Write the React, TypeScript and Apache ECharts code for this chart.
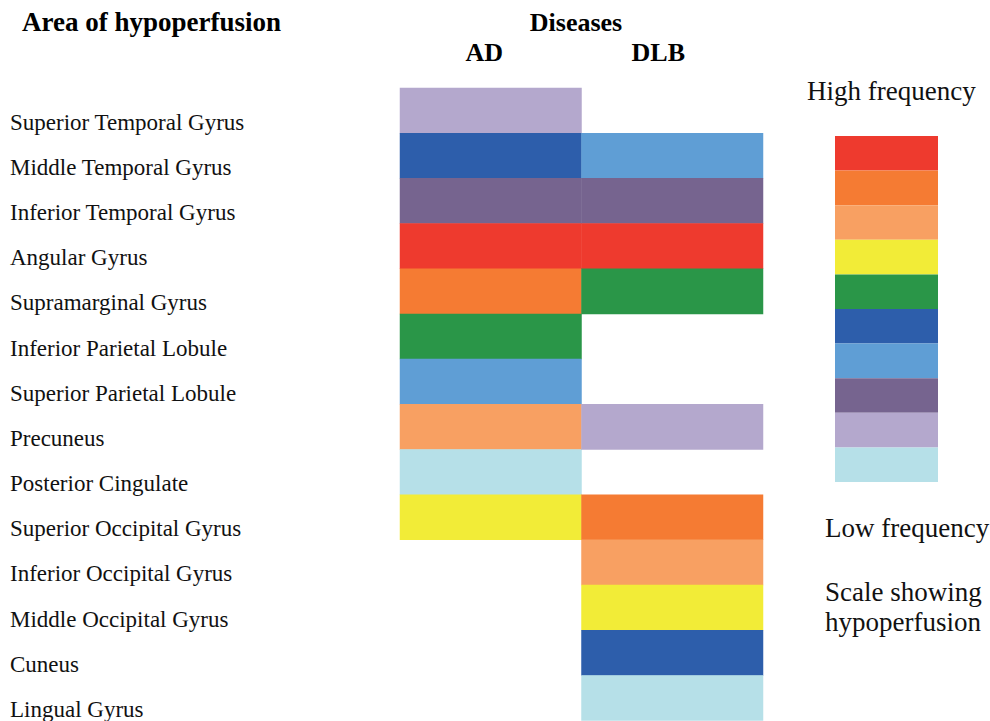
import React, { useEffect, useRef } from "react";
import * as echarts from "echarts";

const regions = [
  "Superior Temporal Gyrus",
  "Middle Temporal Gyrus",
  "Inferior Temporal Gyrus",
  "Angular Gyrus",
  "Supramarginal Gyrus",
  "Inferior Parietal Lobule",
  "Superior Parietal Lobule",
  "Precuneus",
  "Posterior Cingulate",
  "Superior Occipital Gyrus",
  "Inferior Occipital Gyrus",
  "Middle Occipital Gyrus",
  "Cuneus",
  "Lingual Gyrus",
];

const diseases = ["AD", "DLB"];

// frequency level 1 (low) .. 10 (high); null = no hypoperfusion shown
const adLevels = [2, 5, 3, 10, 9, 6, 4, 8, 1, 7, null, null, null, null];
const dlbLevels = [null, 4, 3, 10, 6, null, null, 2, null, 9, 8, 7, 5, 1];

// scale colours, level 10 (high) first
const scaleLevels = [10, 9, 8, 7, 6, 5, 4, 3, 2, 1];
const scaleColors = [
  "#EE3A2E",
  "#F57B33",
  "#F8A062",
  "#F2EC37",
  "#2A9648",
  "#2D5EAB",
  "#5F9ED5",
  "#76648F",
  "#B4A8CD",
  "#B6E0E8",
];

const FONT = "'Liberation Serif', 'Times New Roman', serif";

export default function App() {
  const ref = useRef<HTMLDivElement>(null);

  useEffect(() => {
    if (!ref.current) return;
    const chart = echarts.init(ref.current, null, { renderer: "svg" });

    const data: [number, number, number][] = [];
    [adLevels, dlbLevels].forEach((levels, xi) => {
      levels.forEach((v, yi) => {
        if (v !== null) data.push([xi, yi, v]);
      });
    });

    const pieces = scaleLevels.map((v, i) => ({ value: v, color: scaleColors[i] }));

    const headerStyle = {
      fontSize: 26,
      fontWeight: "bold",
      color: "#000",
      fontFamily: FONT,
    };

    chart.setOption({
      animation: false,
      backgroundColor: "#ffffff",
      textStyle: { fontFamily: FONT },
      grid: { left: 400, top: 88, width: 363, height: 633 },
      xAxis: {
        type: "category",
        position: "top",
        data: diseases,
        axisLine: { show: false },
        axisTick: { show: false },
        splitLine: { show: false },
        axisLabel: {
          margin: 23,
          ...headerStyle,
          formatter: (v: string) => (v === "AD" ? `{a|${v}}` : `{b|${v}}`),
          rich: {
            a: { ...headerStyle, padding: [0, 13, 0, 0] },
            b: { ...headerStyle, padding: [0, 28, 0, 0] },
          },
        },
      },
      yAxis: {
        type: "category",
        inverse: true,
        data: regions,
        axisLine: { show: false },
        axisTick: { show: false },
        splitLine: { show: false },
        axisLabel: {
          align: "left",
          verticalAlign: "top",
          lineHeight: 23,
          margin: 390,
          fontSize: 23,
          color: "#111",
          fontFamily: FONT,
        },
      },
      visualMap: {
        type: "piecewise",
        pieces,
        orient: "vertical",
        left: 835,
        top: 136,
        padding: 0,
        itemWidth: 103,
        itemHeight: 34.6,
        itemGap: 0,
        itemSymbol: "rect",
        showLabel: false,
        hoverLink: false,
        selectedMode: false,
      },
      series: [
        {
          type: "heatmap",
          data,
          itemStyle: { borderWidth: 0 },
          emphasis: { disabled: true },
        },
      ],
      graphic: [
        {
          type: "text",
          x: 22,
          y: 22,
          style: {
            text: "Area of hypoperfusion",
            font: `bold 27px ${FONT}`,
            fill: "#000",
            textVerticalAlign: "middle",
          },
        },
        {
          type: "text",
          x: 576,
          y: 22,
          style: {
            text: "Diseases",
            font: `bold 26px ${FONT}`,
            fill: "#000",
            textAlign: "center",
            textVerticalAlign: "middle",
          },
        },
        {
          type: "text",
          x: 807,
          y: 91,
          style: { text: "High frequency", font: `27px ${FONT}`, fill: "#111", textVerticalAlign: "middle" },
        },
        {
          type: "text",
          x: 825,
          y: 528,
          style: { text: "Low frequency", font: `27px ${FONT}`, fill: "#111", textVerticalAlign: "middle" },
        },
        {
          type: "text",
          x: 825,
          y: 592,
          style: { text: "Scale showing", font: `27px ${FONT}`, fill: "#111", textVerticalAlign: "middle" },
        },
        {
          type: "text",
          x: 825,
          y: 622,
          style: { text: "hypoperfusion", font: `27px ${FONT}`, fill: "#111", textVerticalAlign: "middle" },
        },
      ],
    });

    return () => chart.dispose();
  }, []);

  return (
    <div
      ref={ref}
      style={{ position: "fixed", left: 0, top: 0, width: 990, height: 721 }}
    />
  );
}
